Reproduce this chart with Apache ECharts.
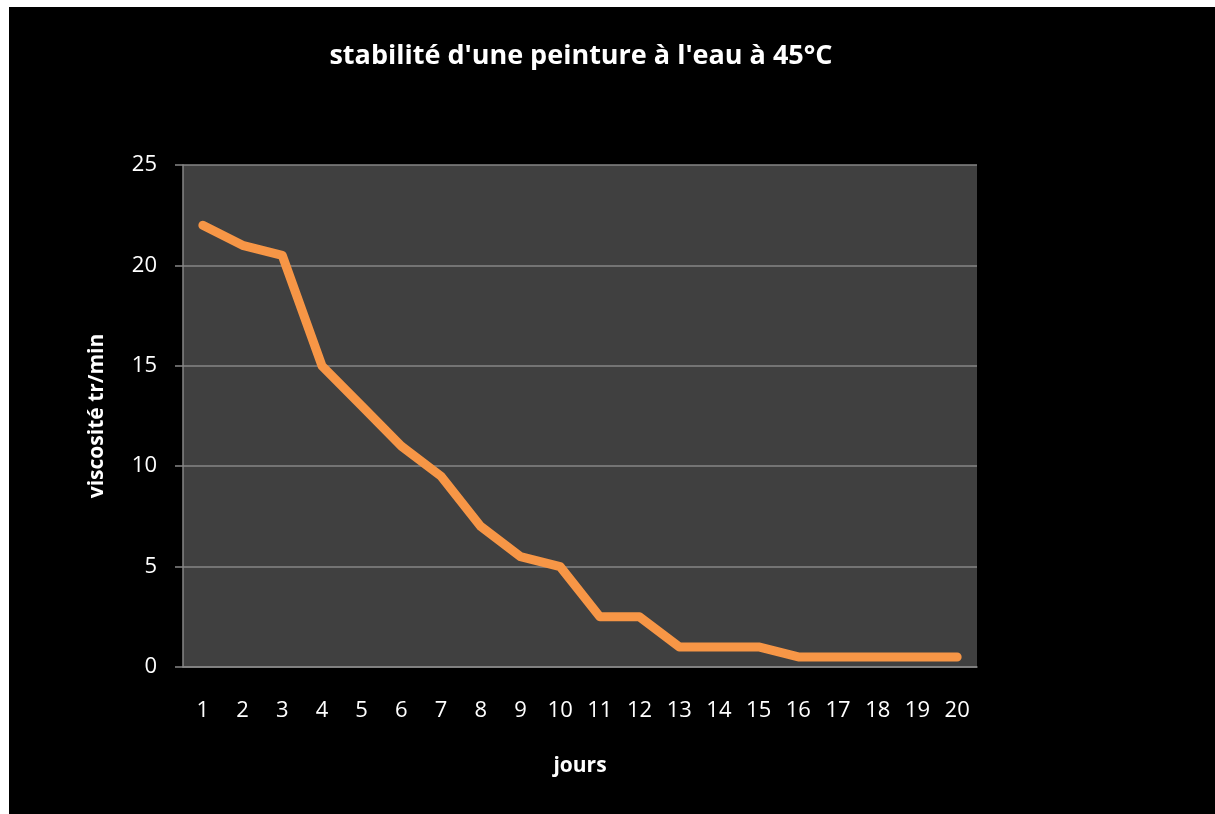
<!DOCTYPE html>
<html>
<head>
<meta charset="utf-8">
<script src="https://cdn.jsdelivr.net/npm/echarts@6/dist/echarts.min.js"></script>
<style>
  html, body { margin: 0; padding: 0; background: #fff; }
  #chart { position: absolute; left: 9px; top: 7px; width: 1206px; height: 807px; }
</style>
</head>
<body>
<div id="chart"></div>
<script>
// Data
const jours = ['1', '2', '3', '4', '5', '6', '7', '8', '9', '10',
  '11', '12', '13', '14', '15', '16', '17', '18', '19', '20'];
const viscosite = [22, 21, 20.5, 15, 13, 11, 9.5, 7, 5.5, 5,
  2.5, 2.5, 1, 1, 1, 0.5, 0.5, 0.5, 0.5, 0.5];

const font = '"Open Sans", "Liberation Sans", sans-serif';
const chart = echarts.init(document.getElementById('chart'));

chart.setOption({
  backgroundColor: '#000',
  animation: false,
  title: {
    text: "stabilité d'une peinture à l'eau à 45°C",
    left: 567,
    top: 31,
    textAlign: 'center',
    textStyle: { color: '#fff', fontSize: 27, fontWeight: 'bold', fontFamily: font }
  },
  grid: {
    left: 174,
    top: 158,
    right: 238,
    bottom: 147,
    show: true,
    backgroundColor: '#404040',
    borderWidth: 0
  },
  xAxis: {
    type: 'category',
    data: jours,
    boundaryGap: true,
    name: 'jours',
    nameLocation: 'middle',
    nameGap: 89,
    nameTextStyle: { color: '#fff', fontSize: 21, fontWeight: 'bold', fontFamily: font },
    axisLine: { lineStyle: { color: '#868686', width: 1.5 } },
    axisTick: { show: false },
    axisLabel: { color: '#fff', fontSize: 22, fontFamily: font, margin: 33 }
  },
  yAxis: {
    type: 'value',
    min: 0,
    max: 25,
    interval: 5,
    name: 'viscosité tr/min',
    nameLocation: 'middle',
    nameGap: 75,
    nameTextStyle: { color: '#fff', fontSize: 21, fontWeight: 'bold', fontFamily: font },
    axisLine: { show: true, lineStyle: { color: '#868686', width: 1.5 } },
    axisTick: { show: true, length: 8, lineStyle: { color: '#868686', width: 1.5 } },
    axisLabel: { color: '#fff', fontSize: 22, fontFamily: font, margin: 26 },
    splitLine: { lineStyle: { color: '#868686', width: 1.5 } }
  },
  series: [{
    type: 'line',
    data: viscosite,
    showSymbol: false,
    lineStyle: { color: '#F79646', width: 9, cap: 'round', join: 'round' }
  }]
});
</script>
</body>
</html>
